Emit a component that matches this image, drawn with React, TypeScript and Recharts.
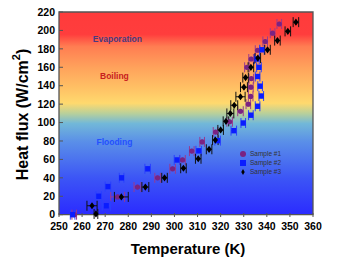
import React from 'react';
import {
  ErrorBar,
  Legend,
  ReferenceArea,
  ReferenceDot,
  Scatter,
  ScatterChart,
  XAxis,
  YAxis,
} from 'recharts';

const tempTicks = [250, 260, 270, 280, 290, 300, 310, 320, 330, 340, 350, 360];
const fluxTicks = [0, 20, 40, 60, 80, 100, 120, 140, 160, 180, 200, 220];

// Sample #1 (purple)
const s1Temp = [256.6, 275.4, 284, 292.7, 299.2, 303.5, 307.5, 312, 317.8, 323.9, 328.6, 332, 333, 333.1, 333.3, 331.4, 333.2, 336, 339.3, 342.5, 345.4];
const s1Flux = [0, 19.3, 30, 40, 49.8, 59.4, 69, 79, 89.7, 100.9, 112.3, 120, 128.4, 138.4, 147.7, 160, 169, 178.5, 188, 197, 207];
const s1TErr = [1, 3, 1.5, 1.2, 1.2, 1.2, 1, 1, 1, 1.2, 1.2, 1, 1, 1, 1, 1, 1, 1, 1, 1, 1];

// Sample #2 (blue)
const s2Temp = [255.9, 270.5, 267.2, 271.2, 277.1, 288.4, 301.1, 310.5, 318.7, 325.7, 329.8, 333.1, 336, 337.6, 337.1, 336, 336.6, 335.7, 337.9];
const s2Flux = [0, 9.7, 20, 30.5, 40, 49.8, 59.4, 69.3, 80.4, 91.2, 99.5, 108, 117.7, 128.8, 139.5, 150, 160, 169, 179];
const s2TErr = [1, 1.8, 1.2, 1.2, 1, 1.2, 1.2, 1.2, 1.2, 1.2, 1, 1, 1, 1, 1, 1, 1, 1, 1];

// Sample #3 (black)
const s3Temp = [266, 264.3, 277, 287.4, 295.7, 303.9, 310.3, 315, 317.7, 320, 322.3, 324.2, 325.9, 328.6, 330.1, 330.8, 333.1, 336.1, 340.3, 344.6, 349.1, 352.6];
const s3Flux = [0.8, 9.7, 19.3, 30, 40, 50.4, 60.7, 71, 81, 92, 101.3, 109.9, 118.8, 128, 138.4, 148.8, 160, 170, 179, 189, 199, 209];
const s3TErr = [0.8, 2.2, 3, 1.5, 1.2, 1.2, 1.2, 1.2, 1.2, 1.2, 1.2, 1.5, 1.5, 2, 1.5, 1.2, 1.2, 1.2, 1.2, 1.2, 1.2, 1.2];

const fluxErr = 2.5;

const regionLabels = [
  { text: 'Evaporation', t: 275.3, q: 191, color: '#4a3a80' },
  { text: 'Boiling', t: 274, q: 151, color: '#c8201e' },
  { text: 'Flooding', t: 274, q: 79, color: '#2450ff' },
];

const rows = (temps: number[], flux: number[], terr: number[]) =>
  temps.map((t, i) => ({ t, q: flux[i], te: terr[i], qe: fluxErr }));

const sample1 = rows(s1Temp, s1Flux, s1TErr);
const sample2 = rows(s2Temp, s2Flux, s2TErr);
const sample3 = rows(s3Temp, s3Flux, s3TErr);

const tickStyle = {
  fill: '#000',
  fontSize: 10.5,
  fontWeight: 'bold',
  fontFamily: '"Liberation Sans", Arial, sans-serif',
};

const Dot = ({ cx, cy, fill }: any) => <circle cx={cx} cy={cy} r={2.6} fill={fill} />;
const Square = ({ cx, cy, fill }: any) => (
  <rect x={cx - 2.5} y={cy - 2.7} width={5} height={5.4} fill={fill} />
);
const Diamond = ({ cx, cy, fill }: any) => (
  <polygon
    points={`${cx},${cy - 3.6} ${cx + 2.6},${cy} ${cx},${cy + 3.6} ${cx - 2.6},${cy}`}
    fill={fill}
  />
);

const RegionText = ({ viewBox, value, color }: any) => (
  <text
    x={viewBox.x + (viewBox.width || 0) / 2}
    y={viewBox.y + (viewBox.height || 0) / 2}
    textAnchor="middle"
    dominantBaseline="central"
    fill={color}
    fontSize={8.5}
    fontWeight="bold"
    fontFamily='"Liberation Sans", Arial, sans-serif'
  >
    {value}
  </text>
);

const YTitle = ({ viewBox }: any) => {
  const cx = viewBox.x + 22;
  const cy = viewBox.y + viewBox.height / 2;
  return (
    <text
      x={cx}
      y={cy}
      transform={`rotate(-90 ${cx} ${cy})`}
      textAnchor="middle"
      dominantBaseline="central"
      fontFamily='"Liberation Sans", Arial, sans-serif'
      fontWeight="bold"
      fontSize={16}
      fill="#000"
    >
      Heat flux (W/cm
      <tspan fontSize={11} dy={-6}>2</tspan>
      <tspan dy={6}>)</tspan>
    </text>
  );
};

const XTitle = ({ viewBox }: any) => (
  <text
    x={viewBox.x + viewBox.width / 2 + 2}
    y={viewBox.y + 37}
    textAnchor="middle"
    fontFamily='"Liberation Sans", Arial, sans-serif'
    fontWeight="bold"
    fontSize={15}
    fill="#000"
  >
    Temperature (K)
  </text>
);

export default function App() {
  return (
    <div style={{ position: 'absolute', left: 0, top: 0 }}>
      <ScatterChart
        width={343}
        height={263}
        margin={{ top: 12, right: 30, left: 0, bottom: 0 }}
      >
        <defs>
          <linearGradient id="regimeBg" x1="0" y1="0" x2="0" y2="1">
            <stop offset="0%" stopColor="#ff3b3b" />
            <stop offset="11%" stopColor="#ff3d3d" />
            <stop offset="17%" stopColor="#ff7d52" />
            <stop offset="28%" stopColor="#ffa45c" />
            <stop offset="37%" stopColor="#ffbf64" />
            <stop offset="45%" stopColor="#ffd96e" />
            <stop offset="50%" stopColor="#b9d09a" />
            <stop offset="55%" stopColor="#72b8d8" />
            <stop offset="64%" stopColor="#5a8fe8" />
            <stop offset="82%" stopColor="#3c55f6" />
            <stop offset="100%" stopColor="#2b2bff" />
          </linearGradient>
        </defs>
        <ReferenceArea
          x1={250}
          x2={360}
          y1={0}
          y2={220}
          fill="url(#regimeBg)"
          fillOpacity={1}
          stroke="#555"
          strokeWidth={1.3}
        />
        <XAxis
          type="number"
          dataKey="t"
          domain={[250, 360]}
          ticks={tempTicks}
          interval={0}
          height={46}
          axisLine={false}
          tickSize={-4}
          tickMargin={10}
          tickLine={{ stroke: '#555' }}
          tick={tickStyle}
          label={<XTitle />}
        />
        <XAxis
          xAxisId="top"
          type="number"
          orientation="top"
          domain={[250, 360]}
          ticks={tempTicks}
          height={0}
          mirror
          axisLine={false}
          tick={false}
          tickSize={4}
          tickLine={{ stroke: '#555' }}
        />
        <YAxis
          type="number"
          dataKey="q"
          domain={[0, 220]}
          ticks={fluxTicks}
          interval={0}
          width={59}
          axisLine={false}
          tickSize={-4}
          tickMargin={8}
          tickLine={{ stroke: '#555' }}
          tick={tickStyle}
          label={<YTitle />}
        />
        <YAxis
          yAxisId="right"
          type="number"
          orientation="right"
          domain={[0, 220]}
          ticks={fluxTicks}
          width={0}
          mirror
          axisLine={false}
          tick={false}
          tickSize={4}
          tickLine={{ stroke: '#555' }}
        />
        {regionLabels.map((r) => (
          <ReferenceDot
            key={r.text}
            x={r.t}
            y={r.q}
            r={0}
            fill="none"
            stroke="none"
            label={<RegionText value={r.text} color={r.color} />}
          />
        ))}
        <Scatter
          name="Sample #1"
          data={sample1}
          fill="#7a2382"
          shape={<Dot />}
          legendType="circle"
          isAnimationActive={false}
        >
          <ErrorBar dataKey="te" direction="x" width={5} stroke="#9a3a8e" strokeWidth={1} />
          <ErrorBar dataKey="qe" direction="y" width={0} stroke="#9a3a8e" strokeWidth={1} />
        </Scatter>
        <Scatter
          name="Sample #2"
          data={sample2}
          fill="#0a1cff"
          shape={<Square />}
          legendType="square"
          isAnimationActive={false}
        >
          <ErrorBar dataKey="te" direction="x" width={5} stroke="#2a40ff" strokeWidth={1} />
          <ErrorBar dataKey="qe" direction="y" width={0} stroke="#2a40ff" strokeWidth={1} />
        </Scatter>
        <Scatter
          name="Sample #3"
          data={sample3}
          fill="#000"
          shape={<Diamond />}
          legendType="diamond"
          isAnimationActive={false}
        >
          <ErrorBar dataKey="te" direction="x" width={5} stroke="#111" strokeWidth={1} />
          <ErrorBar dataKey="qe" direction="y" width={0} stroke="#111" strokeWidth={1} />
        </Scatter>
        <Legend
          layout="vertical"
          align="center"
          verticalAlign="middle"
          iconSize={6}
          formatter={(value: string) => <span style={{ color: '#333' }}>{value}</span>}
          wrapperStyle={{
            left: 240,
            top: 149,
            width: 60,
            fontSize: 6.5,
            lineHeight: '9px',
            fontFamily: '"Liberation Sans", Arial, sans-serif',
          }}
        />
      </ScatterChart>
    </div>
  );
}
